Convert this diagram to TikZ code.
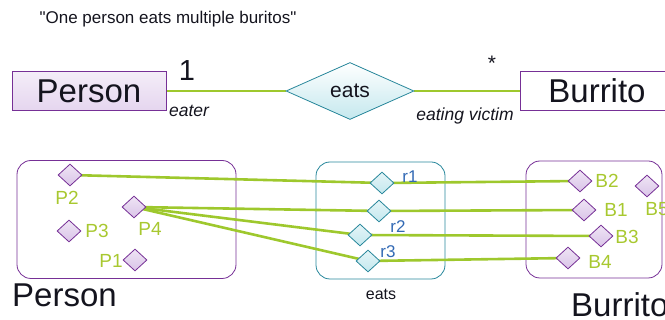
\documentclass[tikz,border=0pt]{standalone}
\usepackage{fontspec}
\setmainfont{Liberation Sans}
\usetikzlibrary{shapes.geometric,positioning,backgrounds}
\definecolor{plum}{RGB}{118,48,150}
\definecolor{lilac}{RGB}{218,196,232}
\definecolor{lagoon}{RGB}{40,135,155}
\definecolor{aqua}{RGB}{196,232,238}
\definecolor{lime}{RGB}{158,200,45}
\definecolor{sprout}{RGB}{168,200,48}
\definecolor{cobalt}{RGB}{50,105,180}
\definecolor{ink}{RGB}{20,20,30}
\newcommand{\px}[1]{\fontsize{#1}{#1}\selectfont}
\tikzset{
  ent/.style={draw=plum,thick,minimum width=154pt,minimum height=39pt,inner sep=0pt,
    font=\px{33},text=ink},
  rel/.style={diamond,draw=lagoon,thick,top color=white,bottom color=aqua,
    minimum width=128pt,minimum height=57pt,inner sep=0pt,font=\px{21},text=ink},
  set/.style={draw=#1,thick,rounded corners=14pt,inner sep=0pt},
  set/.default=plum,
  pdot/.style={diamond,draw=plum,thick,top color=lilac!45,bottom color=lilac,
    minimum width=24pt,minimum height=22pt,inner sep=0pt},
  rdot/.style={diamond,draw=lagoon,thick,top color=aqua!45,bottom color=aqua,
    minimum width=24pt,minimum height=22pt,inner sep=0pt},
  link/.style={draw=lime,line width=2.6pt},
  plab/.style={text=sprout,font=\px{19},inner sep=0pt},
  rlab/.style={text=cobalt,font=\px{17},inner sep=0pt},
  role/.style={font=\itshape\px{17.5},text=ink,inner sep=0pt},
  mult/.style={font=\px{#1},text=ink,inner sep=0pt},
  big/.style={font=\px{33},text=ink,inner sep=0pt},
}
\begin{document}
\begin{tikzpicture}[x=1pt,y=-1pt]
\useasboundingbox (0,0) rectangle (665,320);
\clip (0,0) rectangle (665,320);

% schema
\node[font=\px{17},text=ink,inner sep=0pt] (title) at (168,19) {\textquotedbl One person eats multiple buritos\textquotedbl};
\node[ent,top color=lilac!30,bottom color=lilac!70] (person) at (89,91) {Person};
\node[rel] (eats) at (350,91) {eats};
\node[ent,fill=white] (burrito) at (597,91) {Burrito};
\node[mult=29] (one) at (187,71) {1};
\node[mult=21] (many) at (492,63) {*};
\node[role] (eater) at (189,111) {eater};
\node[role] (victim) at (465,116) {eating victim};

% instances
\foreach \n/\x/\y/\lx/\ly in {P2/70/175/67/198, P4/134/207/150/229,
    P3/69/231/97/231, P1/135/260/111/261}
{
  \node[pdot] (\n) at (\x,\y) {};
  \node[plab] (l\n) at (\lx,\ly) {\n};
}
\foreach \n/\x/\y in {e1/382/183, e2/379/211, e3/360/235, e4/368/261}
  \node[rdot] (\n) at (\x,\y) {};
\foreach \n/\t/\x/\y in {l1/r1/410/177, l2/r2/398/227, l3/r3/388/252}
  \node[rlab] (\n) at (\x,\y) {\t};
\foreach \n/\x/\y/\lx/\ly in {B2/580/181/607/181, B1/584/210/616/210,
    B3/601/236/627/237, B4/568/258/600/262, B5/647/186/657/209}
{
  \node[pdot] (\n) at (\x,\y) {};
  \node[plab] (l\n) at (\lx,\ly) {\n};
}

\node[big,anchor=base west] (pname) at (12,307) {Person};
\node[font=\px{16},text=ink,inner sep=0pt] (ename) at (381,294) {eats};
\node[big,anchor=base west] (bname) at (571,317) {Burrito};

\begin{scope}[on background layer]
  \node[set,minimum width=219pt,minimum height=118pt] (pset) at (126.5,219.5) {};
  \node[set=lagoon,minimum width=129pt,minimum height=117pt] (eset) at (380.5,220.5) {};
  \node[set,minimum width=136pt,minimum height=117pt] (bset) at (594,219.5) {};
  \draw[link] (person.east) -- (eats.west);
  \draw[link] (eats.east) -- (burrito.west);
  \draw[link] (P2.center) -- (e1.center) -- (B2.center);
  \draw[link] (P4.center) -- (e2.center) -- (B1.center);
  \draw[link] (P4.center) -- (e3.center) -- (B3.center);
  \draw[link] (P4.center) -- (e4.center) -- (B4.center);
\end{scope}
\end{tikzpicture}
\end{document}
